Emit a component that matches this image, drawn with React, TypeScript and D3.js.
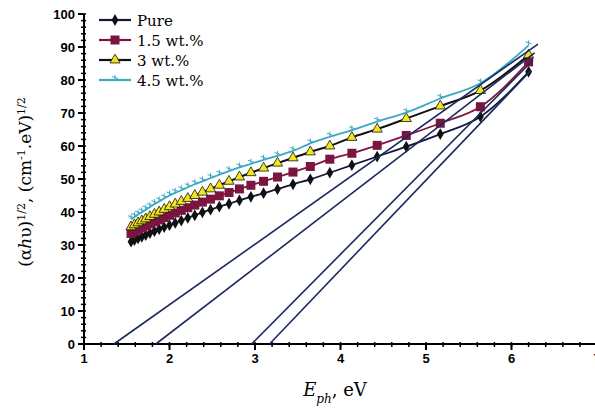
import React, { useEffect, useRef } from 'react';
import * as d3 from 'd3';

// photon energies (eV) of the measured points
const energy = [1.55, 1.59, 1.632, 1.676, 1.722, 1.771, 1.824, 1.879, 1.938, 2.0, 2.067, 2.138, 2.214, 2.296, 2.385, 2.48, 2.583, 2.696, 2.818, 2.952, 3.1, 3.263, 3.444, 3.647, 3.875, 4.133, 4.429, 4.769, 5.167, 5.636, 6.2];

const pure = [31.0, 31.5, 32.0, 32.5, 33.0, 33.6, 34.2, 34.8, 35.4, 36.0, 36.7, 37.4, 38.2, 39.0, 39.9, 40.7, 41.6, 42.5, 43.5, 44.6, 45.7, 46.9, 48.4, 49.9, 51.9, 54.2, 56.8, 59.8, 63.6, 68.9, 82.5];
const wt15 = [33.5, 34.0, 34.6, 35.2, 35.8, 36.4, 37.0, 37.6, 38.3, 39.0, 39.7, 40.5, 41.3, 42.1, 43.0, 43.9, 44.9, 45.9, 47.0, 48.1, 49.3, 50.6, 52.1, 53.8, 56.0, 57.8, 60.2, 63.2, 66.9, 71.9, 85.5];
const wt3 = [35.5, 36.1, 36.7, 37.3, 37.9, 38.6, 39.3, 40.0, 40.8, 41.6, 42.4, 43.2, 44.1, 45.0, 46.0, 47.0, 48.1, 49.3, 50.6, 51.9, 53.3, 54.8, 56.4, 58.2, 60.0, 62.6, 65.1, 68.3, 72.1, 76.8, 87.6];
const wt45 = [37.8, 38.5, 39.2, 39.9, 40.7, 41.5, 42.4, 43.2, 44.1, 45.0, 45.8, 46.6, 47.5, 48.4, 49.3, 50.3, 51.3, 52.4, 53.5, 54.6, 55.8, 57.0, 58.5, 60.8, 62.8, 64.8, 67.4, 70.1, 74.4, 79.0, 90.5];

const seriesNames = ['Pure', '1.5 wt.%', '3 wt.%', '4.5 wt.%'];

// extrapolated straight lines: x-intercept and top end
const tangentStart = [1.35, 1.84, 2.96, 3.17];
const tangentEnd = [[6.31, 90.9], [6.27, 88.2], [6.25, 86.0], [6.23, 83.0]];

const xTicks = [1, 2, 3, 4, 5, 6, 7];
const yTicks = [0, 10, 20, 30, 40, 50, 60, 70, 80, 90, 100];

const W = 595, H = 416;

const Chart = () => {
  const ref = useRef<SVGSVGElement>(null);

  useEffect(() => {
    const svg = d3.select(ref.current);
    svg.selectAll('*').remove();

    const x = d3.scaleLinear().domain([1, 7]).range([84, 597]);
    const y = d3.scaleLinear().domain([0, 100]).range([344, 14]);

    const tickFont = 'Liberation Sans, Arial, sans-serif';

    // axes
    const g = svg.append('g');
    g.append('line').attr('x1', x(1)).attr('x2', x(7)).attr('y1', y(0)).attr('y2', y(0))
      .attr('stroke', '#000').attr('stroke-width', 2);
    g.append('line').attr('x1', x(1)).attr('x2', x(1)).attr('y1', y(0)).attr('y2', y(100))
      .attr('stroke', '#000').attr('stroke-width', 2);

    // minor ticks
    const xMinor = d3.range(1, 7.01, 0.2);
    g.selectAll('.xm').data(xMinor).enter().append('line')
      .attr('x1', d => x(d)).attr('x2', d => x(d))
      .attr('y1', y(0) - 2).attr('y2', y(0) + 3)
      .attr('stroke', '#000').attr('stroke-width', 1.5);
    const yMinor = d3.range(0, 100.01, 2);
    g.selectAll('.ym').data(yMinor).enter().append('line')
      .attr('x1', x(1) - 3).attr('x2', x(1) + 2)
      .attr('y1', d => y(d)).attr('y2', d => y(d))
      .attr('stroke', '#000').attr('stroke-width', 1.5);

    // major ticks + labels
    g.selectAll('.xt').data(xTicks).enter().append('line')
      .attr('x1', d => x(d)).attr('x2', d => x(d))
      .attr('y1', y(0)).attr('y2', y(0) + 6)
      .attr('stroke', '#000').attr('stroke-width', 2);
    g.selectAll('.xl').data(xTicks).enter().append('text')
      .attr('x', d => x(d)).attr('y', y(0) + 19)
      .attr('text-anchor', 'middle')
      .style('font-family', tickFont).style('font-weight', 'bold').style('font-size', '13px')
      .text(d => d);
    g.selectAll('.yt').data(yTicks).enter().append('line')
      .attr('x1', x(1) - 6).attr('x2', x(1))
      .attr('y1', d => y(d)).attr('y2', d => y(d))
      .attr('stroke', '#000').attr('stroke-width', 2);
    g.selectAll('.yl').data(yTicks).enter().append('text')
      .attr('x', x(1) - 9).attr('y', d => y(d) + 5)
      .attr('text-anchor', 'end')
      .style('font-family', tickFont).style('font-weight', 'bold').style('font-size', '13px')
      .text(d => d);

    // series
    const values = [pure, wt15, wt3, wt45];
    const lineColors = ['#15163a', '#7d1740', '#111111', '#3aa9c4'];
    const line = d3.line<[number, number]>().x(d => x(d[0])).y(d => y(d[1])).curve(d3.curveMonotoneX);

    const drawMarker = (sel: any, i: number) => {
      if (i === 0) {
        sel.append('path').attr('d', d3.symbol(d3.symbolDiamond, 40)()).attr('fill', '#111');
      } else if (i === 1) {
        sel.append('rect').attr('x', -4.5).attr('y', -4.5).attr('width', 9).attr('height', 9)
          .attr('fill', '#7a1540');
      } else if (i === 2) {
        sel.append('path').attr('d', d3.symbol(d3.symbolTriangle, 45)())
          .attr('fill', '#f3e51c').attr('stroke', '#111').attr('stroke-width', 0.8);
      } else {
        sel.append('path').attr('d', 'M0,-5 L0,0 M-3,-3.5 L3,-1.5')
          .attr('stroke', '#3aa9c4').attr('stroke-width', 1).attr('fill', 'none');
      }
    };

    values.forEach((vals, i) => {
      const pts = energy.map((e, k) => [e, vals[k]] as [number, number]);
      const sg = svg.append('g');
      sg.append('path').attr('d', line(pts)).attr('fill', 'none')
        .attr('stroke', lineColors[i]).attr('stroke-width', i === 2 ? 2 : 1.8);
      pts.forEach(p => {
        const m = sg.append('g').attr('transform', `translate(${x(p[0])},${y(p[1])})`);
        drawMarker(m, i);
      });
    });

    // tangent lines
    tangentStart.forEach((s, i) => {
      svg.append('line')
        .attr('x1', x(s)).attr('y1', y(0))
        .attr('x2', x(tangentEnd[i][0])).attr('y2', y(tangentEnd[i][1]))
        .attr('stroke', '#1b2a5e').attr('stroke-width', 1.6);
    });

    // legend
    const lg = svg.append('g');
    seriesNames.forEach((name, i) => {
      const ly = 20 + i * 20;
      lg.append('line').attr('x1', 99).attr('x2', 131).attr('y1', ly).attr('y2', ly)
        .attr('stroke', lineColors[i]).attr('stroke-width', 2.2);
      const m = lg.append('g').attr('transform', `translate(115,${ly})`);
      drawMarker(m, i);
      lg.append('text').attr('x', 137).attr('y', ly + 5.5)
        .style('font-family', 'DejaVu Serif, serif').style('font-size', '15px')
        .text(name);
    });

    // axis titles
    const yt = svg.append('text')
      .attr('transform', `translate(31,${182}) rotate(-90)`)
      .attr('text-anchor', 'middle')
      .style('font-family', 'DejaVu Serif, serif').style('font-size', '17px');
    yt.append('tspan').text('(α');
    yt.append('tspan').style('font-style', 'italic').text('h');
    yt.append('tspan').text('υ)');
    yt.append('tspan').attr('baseline-shift', 'super').style('font-size', '11px').text('1/2');
    yt.append('tspan').text(', (cm');
    yt.append('tspan').attr('baseline-shift', 'super').style('font-size', '11px').text('-1');
    yt.append('tspan').text('.eV)');
    yt.append('tspan').attr('baseline-shift', 'super').style('font-size', '11px').text('1/2');

    const xt = svg.append('text')
      .attr('x', 335).attr('y', 396)
      .attr('text-anchor', 'middle')
      .style('font-family', 'DejaVu Serif, serif').style('font-size', '18px');
    xt.append('tspan').style('font-style', 'italic').text('E');
    xt.append('tspan').attr('baseline-shift', 'sub').style('font-style', 'italic').style('font-size', '12px').text('ph');
    xt.append('tspan').text(', eV');
  }, []);

  return <svg ref={ref} width={W} height={H} style={{ position: 'absolute', left: 0, top: 0, background: '#fff' }} />;
};

export default function App() {
  return <Chart />;
}
